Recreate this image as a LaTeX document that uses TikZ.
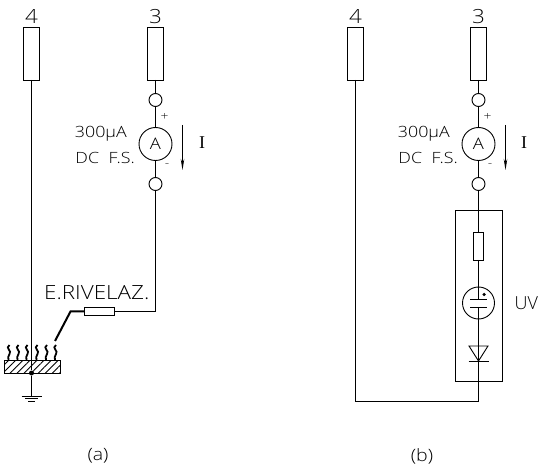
\documentclass[tikz,border=0pt]{standalone}
\usepackage{fontspec}
\setmainfont{Open Sans Light}[FakeStretch=1.15]
\newfontfamily\plainsans{Open Sans Light}
\newfontfamily\serifcurr{Liberation Serif}
\usepackage{tikz}
\usetikzlibrary{positioning,arrows.meta,patterns.meta}
\begin{document}
\begin{tikzpicture}[
      x=1pt, y=-1pt,
      node distance=13pt,
      wire/.style={line width=0.9pt},
      pinbox/.style={rectangle, draw, line width=0.9pt, fill=white, minimum width=16pt, minimum height=53pt, inner sep=0pt, outer sep=0pt},
      ring/.style={circle, draw, line width=0.9pt, fill=white, minimum size=13pt, inner sep=0pt, outer sep=0pt},
      meter/.style={circle, draw, line width=0.9pt, fill=white, minimum size=33pt, inner sep=0pt, outer sep=0pt, font=\fontsize{16}{16}\selectfont},
      lab/.style={font=\fontsize{15.5}{16}\selectfont, inner sep=0pt},
      biglab/.style={font=\fontsize{19.5}{20}\selectfont, inner sep=0pt},
      curlab/.style={font=\fontsize{18}{18}\serifcurr, inner sep=0pt},
      sgn/.style={font=\fontsize{12}{12}\selectfont, inner sep=0pt},
      curr/.style={-{Stealth[length=11pt,width=3.5pt]}, line width=0.9pt},
      heat/.style={line width=1.8pt}
    ]
    \useasboundingbox (0,0) rectangle (539,468);

    % (a) probe side
    \node[pinbox] (boxAf) at (31.5,53.5) {};
    \node[biglab, above=3pt of boxAf] (numAf) {4};
    \node[pinbox] (boxAt) at (155.5,53.5) {};
    \node[biglab, above=3pt of boxAt] (numAt) {3};
    \node[ring] (ringAu) at (155.5,100) {};
    \node[meter] (meterA) at (155.5,144) {A};
    \node[ring] (ringAd) at (155.5,184) {};
    \node[sgn] (plusA) at (164.5,117) {+};
    \node[sgn] (minusA) at (167,166) {-};
    \node[lab, anchor=base east] (rangeAu) at (127,137.5) {300µA};
    \node[lab, anchor=base east] (rangeAd) at (135,163.5) {DC\hspace{5pt} F.S.};
    \node[curlab] (currA) at (202,143) {I};
    \coordinate (currAu) at (182.5,125);
    \coordinate (currAd) at (182.5,170);
    \draw[curr] (currAu) -- (currAd);

    \node[rectangle, draw, line width=0.9pt, fill=white, minimum width=30.5pt, minimum height=8pt, inner sep=0pt, outer sep=0pt] (probe) at (99.5,311.5) {};
    \node[biglab, anchor=base west] (probelab) at (44,299) {E.RIVELAZ.};
    \coordinate (corner) at (155.5,311.5);
    \coordinate (tipb) at (70.5,311.5);
    \coordinate (tipa) at (55,341);

    \node[rectangle, draw, line width=0.9pt, pattern={Lines[angle=45,distance=5pt,line width=0.9pt]}, minimum width=56pt, minimum height=12.5pt, inner sep=0pt, outer sep=0pt] (plate) at (32,367) {};
    \node[circle, fill, minimum size=5pt, inner sep=0pt] (dot) at (31.5,373) {};
    \coordinate (gnd) at (31.5,396);
    \node[lab, font=\fontsize{17}{18}\selectfont] (capA) at (98,456) {(a)};

    \draw[wire] (boxAf.south) -- (dot);
    \draw[wire] (dot) -- (gnd);
    \draw[wire] (21.5,396) -- (41.5,396);
    \draw[wire] (25,398.7) -- (38,398.7);
    \draw[wire] (28,401.5) -- (35,401.5);
    \draw[wire] (boxAt) -- (ringAu);
    \draw[wire] (ringAu) -- (meterA);
    \draw[wire] (meterA) -- (ringAd);
    \draw[wire] (ringAd) -- (corner) -- (probe);
    \draw[line width=2pt] (probe.west) -- (tipb) -- (tipa);
    \foreach \hx in {8.5,17.5,26.5,36.5,46,55}
      \draw[heat] (\hx+1,345) .. controls (\hx-4,348) and (\hx+4,351) .. (\hx+1,354) .. controls (\hx-0.5,356) and (\hx-0.5,358) .. (\hx,360);

    % (b) lamp side
    \node[pinbox] (boxBf) at (355.5,53.5) {};
    \node[biglab, above=3pt of boxBf] (numBf) {4};
    \node[pinbox] (boxBt) at (478.5,53.5) {};
    \node[biglab, above=3pt of boxBt] (numBt) {3};
    \node[ring] (ringBu) at (478.5,100) {};
    \node[meter] (meterB) at (478.5,144) {A};
    \node[ring] (ringBd) at (478.5,184) {};
    \node[sgn] (plusB) at (487.5,117) {+};
    \node[sgn] (minusB) at (490,166) {-};
    \node[lab, anchor=base east] (rangeBu) at (450,137.5) {300µA};
    \node[lab, anchor=base east] (rangeBd) at (458,163.5) {DC\hspace{5pt} F.S.};
    \node[curlab] (currB) at (524,143) {I};
    \coordinate (currBu) at (505.5,125);
    \coordinate (currBd) at (505.5,170);
    \draw[curr] (currBu) -- (currBd);

    \node[rectangle, draw, line width=0.9pt, minimum width=47pt, minimum height=171pt, inner sep=0pt, outer sep=0pt] (lampbox) at (478.5,295.5) {};
    \node[rectangle, draw, line width=0.9pt, fill=white, minimum width=10pt, minimum height=28pt, inner sep=0pt, outer sep=0pt] (fuse) at (478.5,246) {};
    \node[circle, draw, line width=0.9pt, minimum size=32pt, inner sep=0pt, outer sep=0pt] (tube) at (478.5,303) {};
    \node[inner sep=0pt, font=\fontsize{18}{18}\plainsans, anchor=west] (uvlab) at (514.5,303) {UV};
    \node[circle, fill, minimum size=3.5pt, inner sep=0pt] (tubedot) at (484,294.5) {};
    \coordinate (anodeB) at (478.5,299);
    \coordinate (cathB) at (478.5,307);
    \coordinate (diodeT) at (478.5,346);
    \coordinate (diodeB) at (478.5,361);
    \coordinate (return) at (478.5,401);
    \coordinate (returnl) at (355.5,401);
    \node[lab, font=\fontsize{17}{18}\selectfont] (capB) at (422,456) {(b)};

    \draw[wire] (boxBf) -- (returnl) -- (return);
    \draw[wire] (boxBt) -- (ringBu);
    \draw[wire] (ringBu) -- (meterB);
    \draw[wire] (meterB) -- (ringBd);
    \draw[wire] (ringBd) -- (fuse);
    \draw[wire] (fuse) -- (anodeB);
    \draw[wire] (cathB) -- (return);
    \draw[wire] (470,299) -- (487,299);
    \draw[wire] (470,307) -- (487,307);
    \draw[wire] (469,346) -- (488,346) -- (diodeB) -- cycle;
    \draw[wire] (468.5,361) -- (488.5,361);
\end{tikzpicture}
\end{document}
